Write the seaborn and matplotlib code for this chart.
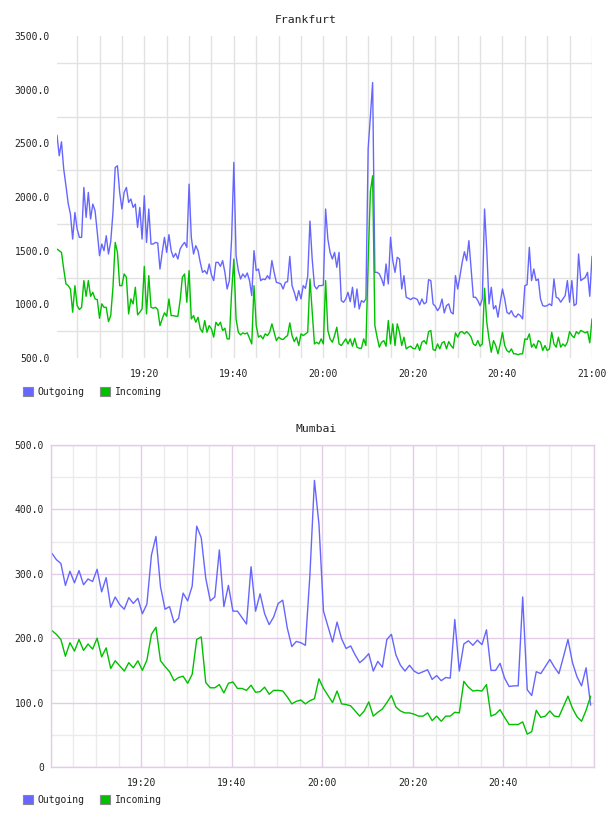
import numpy as np
import pandas as pd
import matplotlib
matplotlib.use('Agg')
import matplotlib.pyplot as plt
import matplotlib.dates as mdates
from matplotlib.patches import Patch
from matplotlib.ticker import FixedLocator
import seaborn as sns

# ----------------------------------------------------------------
# Frankfurt : 30초 간격, 19:00:30 ~ 21:00:00
# ----------------------------------------------------------------
fra_out = [
    2576, 2384, 2514, 2260, 2105, 1940, 1841, 1608, 1856, 1702,
    1624, 1624, 2089, 1810, 2043, 1795, 1934, 1872, 1670, 1453,
    1562, 1500, 1639, 1469, 1584, 1856, 2275, 2291, 2043, 1888,
    2043, 2089, 1950, 1981, 1903, 1934, 1717, 1903, 1608, 2012,
    1577, 1888, 1562, 1562, 1577, 1571, 1329, 1484, 1624, 1484,
    1649, 1500, 1438, 1475, 1422, 1515, 1552, 1577, 1531, 2120,
    1624, 1469, 1546, 1500, 1391, 1298, 1314, 1283, 1376, 1273,
    1221, 1391, 1391, 1354, 1407, 1298, 1143, 1221, 1608, 2322,
    # 19:40:30 ~
    1453, 1314, 1236, 1283, 1252, 1292, 1221, 1081, 1500, 1314,
    1329, 1221, 1236, 1230, 1267, 1236, 1407, 1298, 1205, 1199,
    1190, 1143, 1205, 1211, 1447, 1174, 1112, 1035, 1128, 1050,
    1174, 1149, 1261, 1776, 1422, 1174, 1143, 1174, 1174, 1180,
    1888, 1608, 1484, 1422, 1484, 1345, 1484, 1035, 1019, 1050,
    1112, 1025, 1159, 972, 1143, 957, 1035, 1019, 1050, 2450,
    2750, 3066, 1298, 1298, 1283, 1236, 1174, 1376, 1190, 1624,
    1407, 1298, 1438, 1422, 1143, 1267, 1066, 1056, 1044, 1060,
    # 20:20:30 ~
    1056, 1044, 994, 1050, 1004, 1019, 1230, 1221, 1004, 982,
    941, 972, 1050, 920, 988, 1004, 926, 910, 1267, 1143,
    1261, 1391, 1490, 1407, 1593, 1329, 1066, 1066, 1035, 988,
    1050, 1888, 1500, 1004, 1159, 957, 988, 880, 1019, 1143,
    1050, 926, 910, 941, 895, 880, 910, 895, 864, 1174,
    1183, 1531, 1221, 1329, 1221, 1236, 1050, 988, 982, 988,
    1004, 988, 1236, 1066, 1056, 1020, 1050, 1081, 1221, 1019,
    1221, 988, 1004, 1469, 1221, 1236, 1252, 1298, 1075, 1447,
]
fra_in = [
    1515, 1500, 1484, 1329, 1190, 1174, 1143, 927, 1174, 988,
    952, 972, 1221, 1075, 1221, 1075, 1112, 1050, 1044, 870,
    1004, 972, 972, 839, 895, 1159, 1577, 1484, 1174, 1174,
    1283, 1252, 911, 1050, 1004, 1159, 902, 927, 957, 1354,
    911, 1267, 972, 964, 972, 952, 802, 864, 921, 889,
    1050, 895, 895, 889, 889, 1035, 1252, 1283, 1019, 1314,
    864, 895, 833, 880, 771, 740, 849, 740, 802, 771,
    694, 833, 802, 833, 756, 777, 678, 678, 1112, 1422,
    # 19:40:30 ~
    864, 740, 715, 734, 725, 734, 684, 631, 1174, 802,
    694, 709, 678, 725, 709, 740, 818, 740, 662, 694,
    678, 672, 694, 709, 827, 709, 653, 694, 616, 725,
    709, 725, 740, 1236, 927, 631, 647, 631, 678, 631,
    1221, 756, 678, 647, 709, 787, 631, 616, 647, 678,
    631, 678, 610, 684, 601, 591, 591, 678, 616, 1400,
    2050, 2198, 802, 694, 601, 647, 662, 610, 849, 631,
    818, 616, 818, 740, 616, 694, 585, 601, 610, 590,
    # 20:20:30 ~
    585, 631, 570, 647, 662, 631, 746, 756, 579, 570,
    631, 585, 641, 653, 585, 653, 616, 591, 734, 694,
    740, 746, 725, 746, 725, 694, 631, 616, 662, 610,
    631, 1150, 833, 678, 554, 662, 616, 539, 631, 740,
    616, 570, 554, 585, 539, 539, 530, 539, 539, 678,
    672, 725, 601, 631, 591, 662, 647, 570, 616, 570,
    585, 740, 631, 601, 694, 601, 631, 610, 647, 746,
    709, 690, 746, 725, 756, 746, 734, 746, 641, 864,
]

# ----------------------------------------------------------------
# Mumbai : 1분 간격
# ----------------------------------------------------------------
mum_out = [
    332, 322, 316, 282, 304, 286, 305, 283, 292, 288,
    307, 272, 294, 248, 264, 252, 245, 263, 254, 262,
    238, 253, 329, 358, 280, 245, 249, 224, 231, 270,
    258, 281, 374, 356, 293, 258, 264, 337, 249, 282,
    242, 242, 232, 222, 311, 242, 269, 238, 221, 233,
    254, 259, 216, 187, 195, 193, 189, 298, 445, 377,
    242, 218, 194, 225, 199, 184, 188, 174, 162, 168,
    176, 149, 164, 155, 198, 206, 174, 158, 149, 158,
    149, 145, 148, 151, 136, 142, 134, 139, 138, 229,
    149, 191, 196, 189, 197, 190, 213, 150, 150, 161,
    138, 125, 126, 126, 264, 120, 111, 148, 145, 156,
    167, 155, 145, 171, 198, 162, 140, 126, 154, 96,
]
mum_in = [
    212, 206, 198, 172, 193, 180, 198, 181, 191, 183,
    200, 171, 185, 153, 165, 157, 149, 162, 154, 165,
    150, 166, 206, 217, 165, 156, 148, 134, 139, 141,
    130, 144, 198, 202, 131, 123, 123, 128, 115, 130,
    132, 122, 122, 119, 127, 116, 117, 124, 113, 119,
    119, 118, 109, 98, 102, 104, 98, 103, 106, 137,
    122, 111, 100, 118, 98, 97, 95, 87, 79, 87,
    101, 79, 85, 90, 100, 111, 93, 87, 84, 84,
    82, 79, 79, 84, 72, 79, 71, 79, 79, 85,
    84, 133, 124, 118, 119, 118, 128, 79, 82, 89,
    77, 66, 66, 66, 70, 51, 55, 88, 77, 79,
    87, 79, 78, 94, 110, 91, 78, 71, 88, 110,
]

series = ['Outgoing', 'Incoming']
BLUE = '#6666ff'
GREEN = '#00c000'
palette = {'Outgoing': BLUE, 'Incoming': GREEN}

fra_time = pd.date_range('2024-01-01 19:00:30', periods=len(fra_out), freq='30s')
mum_time = pd.date_range('2024-01-01 19:00:15', periods=len(mum_out), freq='60s')

fra = pd.DataFrame({'time': fra_time, 'Outgoing': fra_out, 'Incoming': fra_in})
fra = fra.melt(id_vars='time', var_name='dir', value_name='value')
mum = pd.DataFrame({'time': mum_time, 'Outgoing': mum_out, 'Incoming': mum_in})
mum = mum.melt(id_vars='time', var_name='dir', value_name='value')

sns.set_style('white')
plt.rcParams['font.family'] = ['DejaVu Sans Mono']

fig = plt.figure(figsize=(6.08, 8.16), dpi=100)
W, H = 608, 816
ax1 = fig.add_axes([57 / W, 1 - 358 / H, 535 / W, 322 / H])
ax2 = fig.add_axes([50.7 / W, 1 - 767 / H, 543.3 / W, 322 / H])

TXT = '#222222'

# ---- Frankfurt
sns.lineplot(data=fra, x='time', y='value', hue='dir', hue_order=series,
             palette=palette, lw=1.0, legend=False, ax=ax1)
ax1.set_xlim(fra_time[0], fra_time[-1])
ax1.set_ylim(500, 3500)
fra_yt = list(range(500, 3501, 500))
ax1.set_yticks(fra_yt)
ax1.set_yticklabels([f'{v:.1f}' for v in fra_yt])
ax1.yaxis.set_minor_locator(FixedLocator(list(range(750, 3500, 500))))
ax1.xaxis.set_major_locator(mdates.MinuteLocator(byminute=[0, 20, 40]))
ax1.xaxis.set_major_formatter(mdates.DateFormatter('%H:%M'))
ax1.xaxis.set_minor_locator(mdates.MinuteLocator(byminute=range(0, 60, 5)))
ax1.grid(False)
ax1.grid(which='minor', color='#e2e2e2', lw=1)
ax1.grid(which='major', axis='x', color='#e2e2e2', lw=1)
ax1.set_axisbelow(True)
for s in ax1.spines.values():
    s.set_visible(False)

# ---- Mumbai
sns.lineplot(data=mum, x='time', y='value', hue='dir', hue_order=series,
             palette=palette, lw=1.0, legend=False, ax=ax2)
ax2.set_xlim(pd.Timestamp('2024-01-01 19:00'), pd.Timestamp('2024-01-01 21:00'))
ax2.set_ylim(0, 500)
mum_yt = list(range(0, 501, 100))
ax2.set_yticks(mum_yt)
ax2.set_yticklabels(['0' if v == 0 else f'{v:.1f}' for v in mum_yt])
ax2.yaxis.set_minor_locator(FixedLocator(list(range(50, 500, 100))))
ax2.set_xticks(pd.date_range('2024-01-01 19:20', '2024-01-01 20:40', freq='20min'))
ax2.xaxis.set_major_formatter(mdates.DateFormatter('%H:%M'))
ax2.xaxis.set_minor_locator(mdates.MinuteLocator(byminute=range(0, 60, 5)))
ax2.grid(False)
ax2.grid(which='minor', color='#ebebeb', lw=1)
ax2.grid(which='major', color='#e2cce6', lw=1)
ax2.set_axisbelow(True)
for s in ax2.spines.values():
    s.set_color('#e2cce6')
    s.set_linewidth(1)

for ax in (ax1, ax2):
    ax.set_xlabel('')
    ax.set_ylabel('')
    ax.tick_params(which='both', length=0, labelsize=7, colors=TXT)
    ax.tick_params(axis='x', pad=8)
    ax.tick_params(axis='y', pad=5)

# 제목
fig.text(306 / W, 1 - 20 / H, 'Frankfurt', ha='center', va='center', fontsize=8.2, color=TXT)
fig.text(316 / W, 1 - 429 / H, 'Mumbai', ha='center', va='center', fontsize=8.2, color=TXT)

# 범례
handles = [Patch(facecolor=BLUE, edgecolor='#888888', lw=0.8),
           Patch(facecolor=GREEN, edgecolor='#888888', lw=0.8)]
for ypix in (392, 800):
    fig.legend(handles, series, loc='center left', bbox_to_anchor=(23 / W, 1 - ypix / H),
               ncol=2, frameon=False, fontsize=7, handlelength=1.0, handleheight=1.0,
               handletextpad=0.5, columnspacing=1.6, borderpad=0, borderaxespad=0,
               labelcolor=TXT)

fig.savefig('out.png', dpi=100)
